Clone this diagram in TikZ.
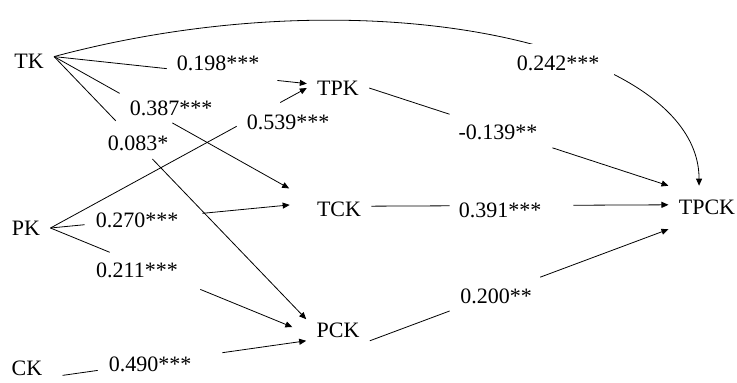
\documentclass[tikz,border=0pt]{standalone}
\usepackage{fontspec}
\setmainfont{Liberation Serif}
\usetikzlibrary{arrows.meta}

\begin{document}
\begin{tikzpicture}[x=1pt, y=-1pt, line width=.8pt,
  var/.style={inner xsep=10pt, inner ysep=3pt, font=\fontsize{22}{26}\selectfont},
  coef/.style={inner sep=0pt, font=\fontsize{22}{26}\selectfont},
  arr/.style={-{Triangle[length=7pt, width=6pt]}}]
  \clip (0,0) rectangle (737,383);
  \node [var] (TK) at (29,61) {TK};
  \node [var] (PK) at (26,228) {PK};
  \node [var, inner ysep=1pt] (CK) at (27,368) {CK};
  \node [var] (TPK) at (338,88) {TPK};
  \node [var] (TCK) at (339,209) {TCK};
  \node [var] (PCK) at (338,330) {PCK};
  \node [var, inner ysep=14pt] (TPCK) at (707,207.5) {TPCK};

  \draw [shorten >=140.9pt] (TK.10) -- (TPK.172);
  \draw [arr, shorten <=224.6pt] (TK.10) -- (TPK.172);
  \draw [shorten >=214.4pt] (TK.10) -- (TCK.north west);
  \draw [arr, shorten <=135.6pt, shorten >=20pt] (TK.10) -- (TCK.north west);
  \draw [shorten >=275pt] (TK.10) -- (PCK.north west);
  \draw [arr, shorten <=141.9pt] (TK.10) -- (PCK.north west);
  \draw [arr] (TK.10) .. controls +(-15:330) and +(0,-140) .. (TPCK.110);

  \draw [shorten >=79.9pt] (PK.east) -- (TPK.west);
  \draw [arr, shorten <=261.8pt] (PK.east) -- (TPK.west);
  \draw [shorten >=223pt] (PK.east) -- (TCK.170);
  \draw [arr, shorten <=152.6pt, shorten >=17pt] (PK.east) -- (TCK.170);
  \draw [shorten >=212.4pt] (PK.east) -- (PCK.185);
  \draw [arr, shorten <=162pt, shorten >=15pt] (PK.east) -- (PCK.185);

  \draw [shorten <=10pt, shorten >=210.6pt] (CK.south east) -- (PCK.south west);
  \draw [arr, shorten <=171.4pt] (CK.south east) -- (PCK.south west);

  \draw [shorten >=230.3pt] (TPK.east) -- (TPCK.north west);
  \draw [arr, shorten <=192.8pt] (TPK.east) -- (TPCK.north west);
  \draw [shorten >=218.9pt] (TCK.5) -- (TPCK.176);
  \draw [arr, shorten <=202pt] (TCK.5) -- (TPCK.176);
  \draw [shorten >=233.6pt] (PCK.south east) -- (TPCK.south west);
  \draw [arr, shorten <=182pt] (PCK.south east) -- (TPCK.south west);

  \node [coef] (c198) at (218,63.5) {0.198***};
  \node [coef] (c387) at (171,108) {0.387***};
  \node [coef] (c083) at (138,143) {0.083*};
  \node [coef] (c539) at (288,122) {0.539***};
  \node [coef, fill=white, minimum width=112pt, minimum height=40pt] (c242) at (558,63.5) {0.242***};
  \node [coef] (c139) at (498,132) {-0.139**};
  \node [coef] (c270) at (137,220) {0.270***};
  \node [coef] (c211) at (137,270) {0.211***};
  \node [coef] (c490) at (150,364) {0.490***};
  \node [coef] (c391) at (500,210) {0.391***};
  \node [coef] (c200) at (496,296) {0.200**};
\end{tikzpicture}
\end{document}
